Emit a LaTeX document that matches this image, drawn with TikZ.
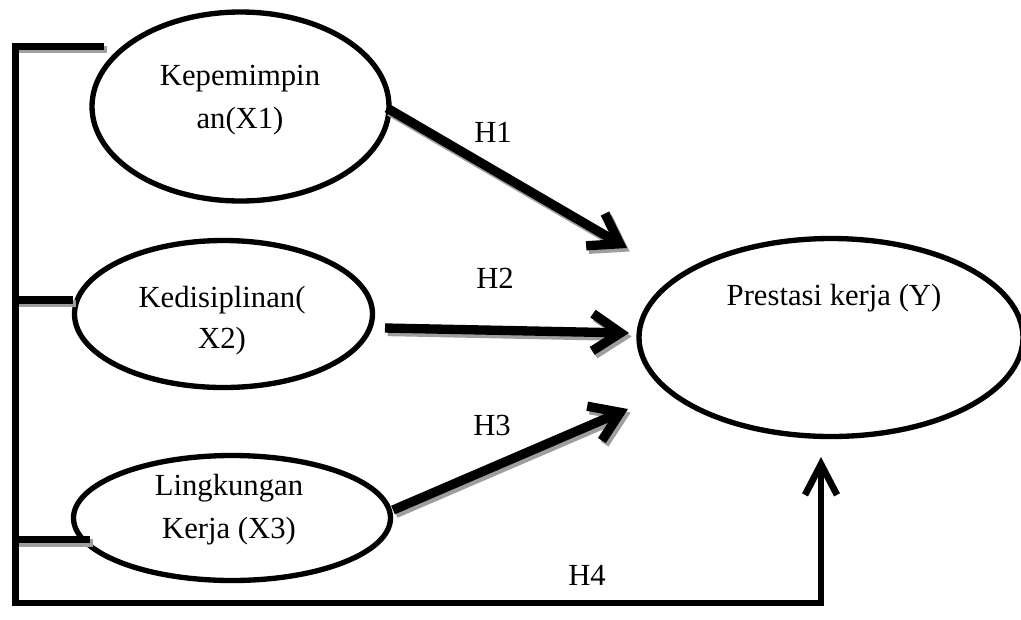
\documentclass[tikz,border=0pt]{standalone}
\usepackage{fontspec}
\setmainfont{Liberation Serif}
\usetikzlibrary{shapes.geometric,arrows.meta}
\tikzset{
  txt/.style={font=\fontsize{23}{30}\selectfont, inner sep=0pt, anchor=base},
  oval/.style={ellipse, draw=black, line width=4pt, inner sep=0pt, fill=white},
  bracketline/.style={draw=black, line width=5pt, line join=miter},
  stub/.style={draw=black, line width=5.5pt},
  stubshadow/.style={draw=black!38, line width=5.5pt},
  hyparrow/.style={draw=black, line width=7pt, -{Straight Barb[length=21pt,width=28pt]}},
  hypshadow/.style={draw=black!38, line width=7pt, -{Straight Barb[length=21pt,width=28pt]}},
  uparrow/.style={-{Straight Barb[length=23pt,width=24pt]}},
}
\begin{document}
\begin{tikzpicture}[x=0.75pt, y=-0.75pt]
\clip (0,0) rectangle (1021,619);
\fill[white] (0,0) rectangle (1021,619);

% ellipses
\node[oval, minimum width=222.75pt, minimum height=141.75pt] (x1) at (240.5,106.5) {};
\node[oval, minimum width=223.5pt, minimum height=110.25pt] (x2) at (223.5,314) {};
\node[oval, minimum width=237.75pt, minimum height=93.75pt] (x3) at (232,518) {};
\node[oval, minimum width=288pt, minimum height=148.5pt] (y) at (831,337.5) {};

% texts
\node[txt] (x1a) at (240,85) {Kepemimpin};
\node[txt] (x1b) at (240,128) {an(X1)};
\node[txt] (x2a) at (222,307) {Kedisiplinan(};
\node[txt] (x2b) at (222,348) {X2)};
\node[txt] (x3a) at (229,495) {Lingkungan};
\node[txt] (x3b) at (229,538) {Kerja (X3)};
\node[txt] (ya) at (834,305) {Prestasi kerja (Y)};
\node[txt] (h1) at (493,142) {H1};
\node[txt] (h2) at (495,288) {H2};
\node[txt] (h3) at (492,435) {H3};
\node[txt] (h4) at (587,585) {H4};

% coordinates
\coordinate (tl) at (104,46.3);
\coordinate (c1) at (15.5,46.3);
\coordinate (c2) at (15.5,603);
\coordinate (c3) at (821,603);
\coordinate (t4) at (821,457);
\coordinate (m0) at (15.5,300);
\coordinate (m1) at (73,300);
\coordinate (b0) at (15.5,539.5);
\coordinate (b1) at (90,539.5);
\coordinate (s1) at (387,108);
\coordinate (t1) at (627,248);
\coordinate (s2) at (385,328);
\coordinate (t2) at (629,333);
\coordinate (s3) at (393,510);
\coordinate (t3) at (628,409);

% shadows
\begin{scope}[transform canvas={shift={(2pt,-2.6pt)}}]
  \draw[stubshadow] (c1) -- (tl);
  \draw[stubshadow] (m0) -- (m1);
  \draw[stubshadow] (b0) -- (b1);
  \draw[hypshadow] (s1) -- (t1);
  \draw[hypshadow] (s2) -- (t2);
  \draw[hypshadow] (s3) -- (t3);
\end{scope}

% bracket and H4
\draw[bracketline, uparrow] (tl) -- (c1) -- (c2) -- (c3) -- (t4);
\draw[stub] (m0) -- (m1);
\draw[stub] (b0) -- (b1);

% hypothesis arrows
\draw[hyparrow] (s1) -- (t1);
\draw[hyparrow] (s2) -- (t2);
\draw[hyparrow] (s3) -- (t3);
\end{tikzpicture}
\end{document}
